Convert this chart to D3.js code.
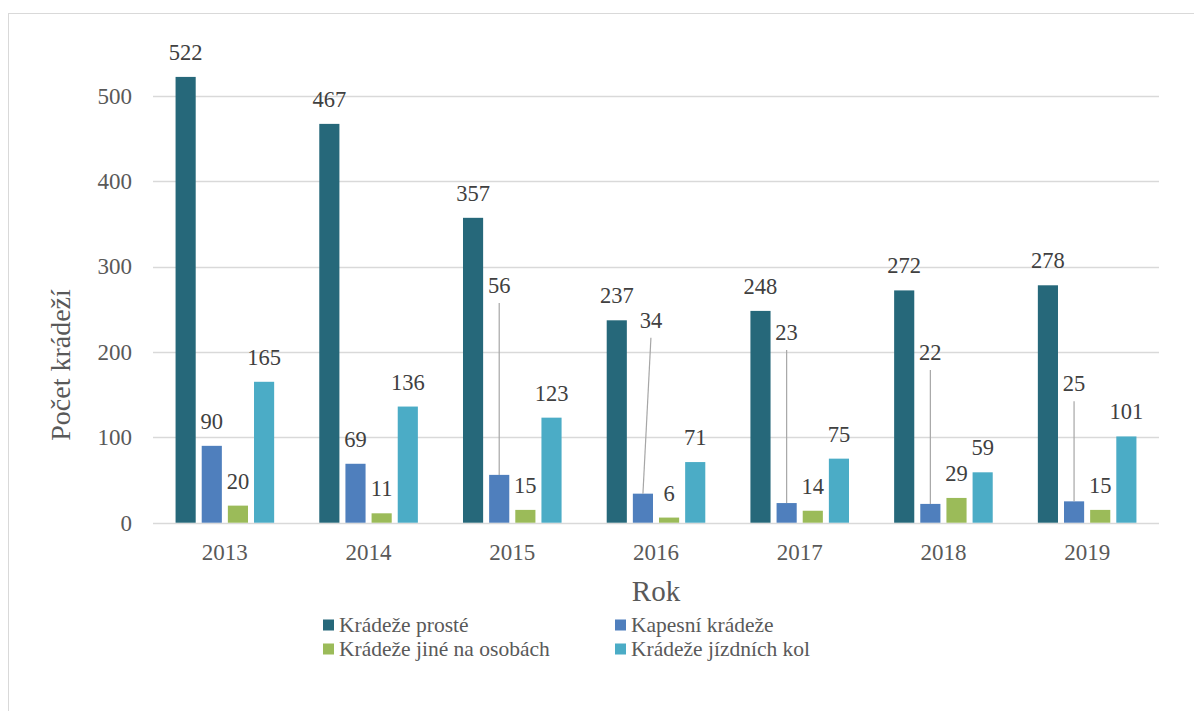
<!DOCTYPE html>
<html>
<head>
<meta charset="utf-8">
<script src="https://cdn.jsdelivr.net/npm/d3@7"></script>
<style>
	body { margin: 0; background: #fff; }
</style>
</head>
<body>
<div id="chart"></div>
<script>
const years = ["2013", "2014", "2015", "2016", "2017", "2018", "2019"];
const seriesNames = ["Krádeže prosté", "Kapesní krádeže", "Krádeže jiné na osobách", "Krádeže jízdních kol"];
const prosteValues = [522, 467, 357, 237, 248, 272, 278];
const kapesniValues = [90, 69, 56, 34, 23, 22, 25];
const jineValues = [20, 11, 15, 6, 14, 29, 15];
const kolaValues = [165, 136, 123, 71, 75, 59, 101];
const yTicks = [0, 100, 200, 300, 400, 500];

// moved labels (with leader lines) for "Kapesní krádeže": pixel shift from the default spot
const movedLabels = {
	"2015": {dx: 0, dy: -165},
	"2016": {dx: 8, dy: -149},
	"2017": {dx: 0, dy: -146},
	"2018": {dx: 0, dy: -127},
	"2019": {dx: 0, dy: -93}
};

const W = 1194, H = 711;
const plot = {L: 153, R: 1159, T: 10.3, B: 522.7};
const colors = ["#26687A", "#4F7FBD", "#9BBB59", "#4BACC6"];
const seriesValues = [prosteValues, kapesniValues, jineValues, kolaValues];
const serif = "'Liberation Serif', 'Times New Roman', serif";

let data = years.map((yr, i) => ({
	year: yr,
	values: seriesNames.map((s, k) => ({key: k, year: yr, value: seriesValues[k][i]}))
}));

let svg = d3.select("#chart").append("svg")
	.attr("width", W)
	.attr("height", H)
	.style("font-family", serif);

/* frame */
svg.append("rect")
	.attr("x", 8.5).attr("y", 13.5)
	.attr("width", 1300).attr("height", 900)
	.attr("fill", "none")
	.attr("stroke", "#D9D9D9")
	.attr("stroke-width", 1);

let x0 = d3.scaleBand().domain(years).range([plot.L, plot.R]).paddingInner(0.314).paddingOuter(0.157);
let x1 = d3.scaleBand().domain(d3.range(seriesNames.length)).range([0, x0.bandwidth()]).paddingInner(0.23);
let y = d3.scaleLinear().domain([0, 600]).range([plot.B, plot.T]);

/* gridlines */
svg.append("g").selectAll("line")
	.data(yTicks)
	.join("line")
	.attr("x1", plot.L).attr("x2", plot.R)
	.attr("y1", d => Math.round(y(d)) + 0.5)
	.attr("y2", d => Math.round(y(d)) + 0.5)
	.attr("stroke", "#D9D9D9")
	.attr("stroke-width", 1.3);

/* y axis labels */
let yAxis = svg.append("g")
	.attr("transform", `translate(${plot.L},0)`)
	.call(d3.axisLeft(y).tickValues(yTicks).tickSize(0).tickPadding(21));
yAxis.attr("font-family", null);
yAxis.select(".domain").remove();
yAxis.selectAll("text")
	.attr("font-size", 23)
	.attr("fill", "#595959");

/* x axis labels */
let xAxis = svg.append("g")
	.attr("transform", `translate(0,${plot.B})`)
	.call(d3.axisBottom(x0).tickSize(0).tickPadding(21));
xAxis.attr("font-family", null);
xAxis.select(".domain").remove();
xAxis.selectAll("text")
	.attr("font-size", 23)
	.attr("fill", "#595959");

/* bars */
let groups = svg.append("g").selectAll("g")
	.data(data)
	.join("g")
	.attr("transform", d => `translate(${x0(d.year)},0)`);

groups.selectAll("rect")
	.data(d => d.values)
	.join("rect")
	.attr("x", d => x1(d.key))
	.attr("width", x1.bandwidth())
	.attr("y", d => y(d.value))
	.attr("height", d => y(0) - y(d.value))
	.attr("fill", d => colors[d.key]);

/* data labels */
let labelBase = d => y(d.value) - 17;
let moved = d => d.key === 1 && movedLabels[d.year];
groups.selectAll("line.leader")
	.data(d => d.values.filter(moved))
	.join("line")
	.attr("class", "leader")
	.attr("x1", d => x1(d.key) + x1.bandwidth() / 2 + movedLabels[d.year].dx)
	.attr("y1", d => labelBase(d) + movedLabels[d.year].dy + 10)
	.attr("x2", d => x1(d.key) + x1.bandwidth() / 2)
	.attr("y2", d => y(d.value))
	.attr("stroke", "#A6A6A6")
	.attr("stroke-width", 1.2);

groups.selectAll("text.lbl")
	.data(d => d.values)
	.join("text")
	.attr("class", "lbl")
	.attr("x", d => x1(d.key) + x1.bandwidth() / 2 + (moved(d) ? movedLabels[d.year].dx : 0))
	.attr("y", d => labelBase(d) + (moved(d) ? movedLabels[d.year].dy : 0))
	.attr("text-anchor", "middle")
	.attr("font-size", 22.5)
	.attr("fill", "#404040")
	.text(d => d.value);

/* axis titles */
svg.append("text")
	.attr("transform", "translate(70,365) rotate(-90)")
	.attr("text-anchor", "middle")
	.attr("font-size", 28)
	.attr("fill", "#595959")
	.text("Počet krádeží");

svg.append("text")
	.attr("x", (plot.L + plot.R) / 2)
	.attr("y", 601)
	.attr("text-anchor", "middle")
	.attr("font-size", 29)
	.attr("fill", "#595959")
	.text("Rok");

/* legend */
let legendPos = [[323, 619.5], [615, 619.5], [323, 643.5], [615, 643.5]];
let legend = svg.append("g").selectAll("g")
	.data(seriesNames)
	.join("g")
	.attr("transform", (d, i) => `translate(${legendPos[i][0]},${legendPos[i][1]})`);
legend.append("rect")
	.attr("width", 11).attr("height", 11)
	.attr("fill", (d, i) => colors[i]);
legend.append("text")
	.attr("x", 16)
	.attr("y", 12.5)
	.attr("font-size", 21.5)
	.attr("fill", "#595959")
	.text(d => d);
</script>
</body>
</html>
